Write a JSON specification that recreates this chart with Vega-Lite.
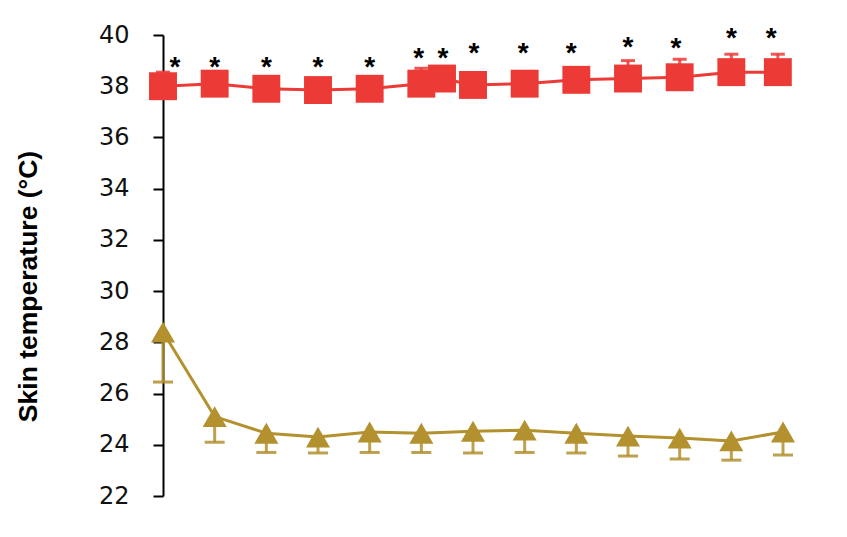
{
  "$schema": "https://vega.github.io/schema/vega-lite/v6.json",
  "autosize": "none",
  "width": 651,
  "height": 461,
  "padding": {"left": 163, "top": 35, "right": 33, "bottom": 41},
  "background": "white",
  "config": {"view": {"stroke": null}, "font": "DejaVu Sans"},
  "datasets": {
    "series": [
      {"group": "hot", "t": 0, "mean": 38.0, "cap": 38.55},
      {"group": "hot", "t": 1, "mean": 38.1, "cap": 38.5},
      {"group": "hot", "t": 2, "mean": 37.9, "cap": 38.3},
      {"group": "hot", "t": 3, "mean": 37.85, "cap": 38.25},
      {"group": "hot", "t": 4, "mean": 37.9, "cap": 38.3},
      {"group": "hot", "t": 5, "mean": 38.1, "cap": 38.7},
      {"group": "hot", "t": 5.4, "mean": 38.3, "cap": 38.6},
      {"group": "hot", "t": 6, "mean": 38.05, "cap": 38.45},
      {"group": "hot", "t": 7, "mean": 38.1, "cap": 38.5},
      {"group": "hot", "t": 8, "mean": 38.25, "cap": 38.65},
      {"group": "hot", "t": 9, "mean": 38.3, "cap": 39.0},
      {"group": "hot", "t": 10, "mean": 38.35, "cap": 39.05},
      {"group": "hot", "t": 11, "mean": 38.55, "cap": 39.25},
      {"group": "hot", "t": 11.9, "mean": 38.55, "cap": 39.25},
      {"group": "cold", "t": 0, "mean": 28.4, "cap": 26.45},
      {"group": "cold", "t": 1, "mean": 25.1, "cap": 24.1},
      {"group": "cold", "t": 2, "mean": 24.45, "cap": 23.7},
      {"group": "cold", "t": 3, "mean": 24.3, "cap": 23.68},
      {"group": "cold", "t": 4, "mean": 24.5, "cap": 23.7},
      {"group": "cold", "t": 5, "mean": 24.45, "cap": 23.7},
      {"group": "cold", "t": 6, "mean": 24.53, "cap": 23.68},
      {"group": "cold", "t": 7, "mean": 24.57, "cap": 23.7},
      {"group": "cold", "t": 8, "mean": 24.45, "cap": 23.68},
      {"group": "cold", "t": 9, "mean": 24.34, "cap": 23.56},
      {"group": "cold", "t": 10, "mean": 24.26, "cap": 23.44},
      {"group": "cold", "t": 11, "mean": 24.15, "cap": 23.4},
      {"group": "cold", "t": 12, "mean": 24.5, "cap": 23.6}
    ],
    "stars": [
      {"t": 0.23, "y": 38.95},
      {"t": 1, "y": 38.95},
      {"t": 2, "y": 38.95},
      {"t": 3, "y": 38.95},
      {"t": 4, "y": 38.95},
      {"t": 4.95, "y": 39.3},
      {"t": 5.42, "y": 39.3},
      {"t": 6.02, "y": 39.5},
      {"t": 6.97, "y": 39.5},
      {"t": 7.9, "y": 39.5},
      {"t": 9, "y": 39.73},
      {"t": 9.93, "y": 39.7},
      {"t": 11, "y": 40.08},
      {"t": 11.77, "y": 40.08}
    ]
  },
  "layer": [
    {
      "data": {"name": "series"},
      "mark": {"type": "rule", "strokeWidth": 3, "opacity": 0.85},
      "encoding": {
        "x": {"field": "t", "type": "quantitative", "scale": {"domain": [0, 12.6], "nice": false, "zero": false}, "axis": null},
        "y": {"field": "mean", "type": "quantitative"},
        "y2": {"field": "cap"},
        "color": {"field": "group", "type": "nominal", "scale": {"domain": ["hot", "cold"], "range": ["#EC3B36", "#B3912F"]}, "legend": null}
      }
    },
    {
      "data": {"name": "series"},
      "transform": [{"filter": "datum.group === 'cold'"}],
      "mark": {"type": "tick", "orient": "horizontal", "size": 20, "thickness": 3, "opacity": 0.85},
      "encoding": {
        "x": {"field": "t", "type": "quantitative"},
        "y": {"field": "cap", "type": "quantitative"},
        "color": {"field": "group", "type": "nominal", "legend": null}
      }
    },
    {
      "data": {"name": "series"},
      "transform": [{"filter": "datum.group === 'hot'"}],
      "mark": {"type": "tick", "orient": "horizontal", "size": 14, "thickness": 3, "opacity": 0.85},
      "encoding": {
        "x": {"field": "t", "type": "quantitative"},
        "y": {"field": "cap", "type": "quantitative"},
        "color": {"field": "group", "type": "nominal", "legend": null}
      }
    },
    {
      "data": {"name": "series"},
      "mark": {"type": "line", "strokeWidth": 3},
      "encoding": {
        "x": {"field": "t", "type": "quantitative"},
        "y": {"field": "mean", "type": "quantitative"},
        "color": {"field": "group", "type": "nominal", "legend": null}
      }
    },
    {
      "data": {"name": "series"},
      "mark": {"type": "point", "filled": true, "opacity": 1},
      "encoding": {
        "x": {"field": "t", "type": "quantitative"},
        "y": {
          "field": "mean", "type": "quantitative",
          "scale": {"domain": [22, 40], "nice": false, "zero": false},
          "axis": {
            "values": [22, 24, 26, 28, 30, 32, 34, 36, 38, 40],
            "grid": false,
            "domainColor": "black", "domainWidth": 2,
            "tickColor": "black", "tickWidth": 2, "tickSize": 10,
            "labelFont": "DejaVu Sans",
            "labelFontSize": 24, "labelColor": "#111", "labelPadding": 24,
            "title": "Skin temperature (°C)",
            "titleFont": "Liberation Sans",
            "titleFontSize": 26.5, "titleFontWeight": "bold", "titleColor": "black",
            "titleAngle": -90,
            "titleX": -135,
            "titleY": 251,
            "titleAlign": "center",
            "titleBaseline": "middle"
          }
        },
        "color": {"field": "group", "type": "nominal", "legend": null},
        "shape": {"field": "group", "type": "nominal", "scale": {"domain": ["hot", "cold"], "range": ["square", "triangle-up"]}, "legend": null},
        "size": {"field": "group", "type": "nominal", "scale": {"domain": ["hot", "cold"], "range": [780, 580]}, "legend": null}
      }
    },
    {
      "data": {"name": "stars"},
      "mark": {"type": "text", "text": "*", "fontSize": 28, "fontWeight": "bold", "font": "Liberation Sans", "color": "black", "baseline": "middle", "dy": 6},
      "encoding": {
        "x": {"field": "t", "type": "quantitative"},
        "y": {"field": "y", "type": "quantitative"}
      }
    }
  ]
}
